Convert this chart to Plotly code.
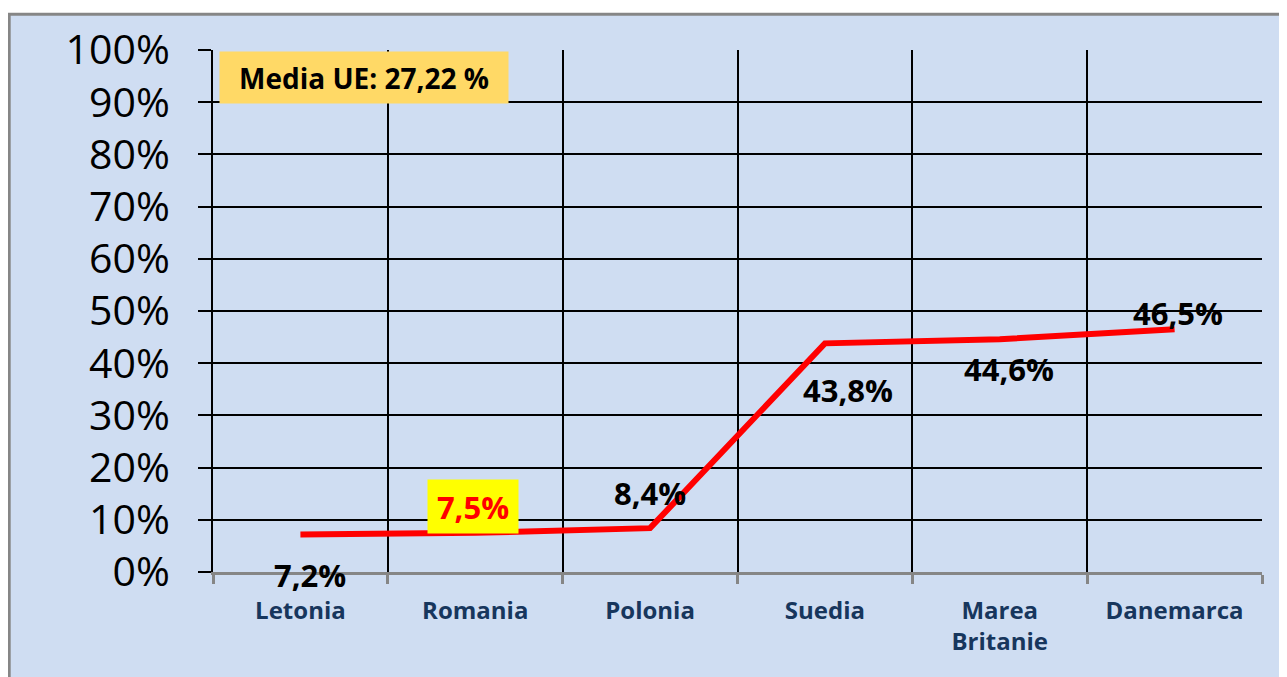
import plotly.graph_objects as go

# ---- data ----
categories = ["Letonia", "Romania", "Polonia", "Suedia", "Marea<br>Britanie", "Danemarca"]
values = [7.2, 7.5, 8.4, 43.8, 44.6, 46.5]
value_labels = ["7,2%", "7,5%", "8,4%", "43,8%", "44,6%", "46,5%"]
y_ticks = [0, 10, 20, 30, 40, 50, 60, 70, 80, 90, 100]
y_tick_labels = ["0%", "10%", "20%", "30%", "40%", "50%", "60%", "70%", "80%", "90%", "100%"]
eu_average_text = "Media UE: 27,22 %"
highlight_index = 1  # Romania

# ---- layout constants (pixels, in window coordinates) ----
PAGE = 8                     # default body margin of the html page
W, H = 1287 - PAGE, 677 - PAGE
L, R, T, B = 213 - PAGE, 1262 - PAGE, 48 - PAGE, 572 - PAGE
BG = "#cfddf2"
FONT = "Open Sans"


def xp(px):
    """window pixel x -> paper x"""
    return (px - PAGE - L) / (R - L)


def yp(py):
    """window pixel y -> paper y"""
    return (B - (py - PAGE)) / (B - T)


fig = go.Figure()
fig.add_trace(go.Scatter(
    x=categories, y=values, mode="lines",
    line=dict(color="#ff0000", width=6),
    cliponaxis=False, hoverinfo="skip", showlegend=False,
))

# label offsets (xshift, yshift) relative to each point
offsets = [(10, -41), (-2, 26), (0, 35), (23, -47), (9, -30), (3, 16)]
annotations = []
for i, (c, v, t) in enumerate(zip(categories, values, value_labels)):
    dx, dy = offsets[i]
    if i == highlight_index:
        annotations.append(dict(
            x=c, y=v, xref="x", yref="y", text=t, showarrow=False,
            xanchor="center", yanchor="middle",
            xshift=dx, yshift=dy, bgcolor="#ffff00", width=90, height=53,
            borderpad=0, font=dict(family=FONT, size=31, color="#ff0000", weight="bold"),
        ))
    else:
        annotations.append(dict(
            x=c, y=v, xref="x", yref="y", text=t, showarrow=False,
            xanchor="center", yanchor="middle",
            xshift=dx, yshift=dy,
            font=dict(family=FONT, size=31, color="#000000", weight="bold"),
        ))

annotations.append(dict(
    x=xp(364), y=yp(75.5), xref="paper", yref="paper", text=eu_average_text,
    xanchor="center", yanchor="middle",
    showarrow=False, bgcolor="#ffd966", width=288, height=51, borderpad=0,
    font=dict(family=FONT, size=28, color="#000000", weight="bold"),
))

shapes = [
    # white margin above chart frame
    dict(type="rect", xref="paper", yref="paper", x0=xp(0), x1=xp(1300), y0=yp(11), y1=yp(0),
         fillcolor="white", line=dict(width=0), layer="above"),
    # grey frame
    dict(type="line", xref="paper", yref="paper", x0=xp(8), x1=xp(1300), y0=yp(12), y1=yp(12),
         line=dict(color="#868686", width=3), layer="above"),
    dict(type="line", xref="paper", yref="paper", x0=xp(9.2), x1=xp(9.2), y0=yp(12), y1=yp(690),
         line=dict(color="#868686", width=3), layer="above"),
]

fig.update_layout(
    width=W, height=H, autosize=False,
    margin=dict(l=L, r=W - R, t=T, b=H - B, pad=0),
    paper_bgcolor=BG, plot_bgcolor=BG,
    showlegend=False,
    annotations=annotations,
    shapes=shapes,
    xaxis=dict(
        type="category", range=[-0.5, 5.5], tickson="boundaries",
        showgrid=True, gridcolor="#000000", gridwidth=2,
        showline=True, linecolor="#868686", linewidth=3,
        ticks="outside", ticklen=9, tickwidth=3, tickcolor="#868686",
        tickfont=dict(family=FONT, size=24, color="#17365d", weight="bold"),
        ticklabelstandoff=15,
        zeroline=False, fixedrange=True,
    ),
    yaxis=dict(
        range=[0, 100], tickmode="array", tickvals=y_ticks, ticktext=y_tick_labels,
        showgrid=True, gridcolor="#000000", gridwidth=2,
        showline=True, linecolor="#000000", linewidth=2,
        ticks="outside", ticklen=13, tickwidth=2, tickcolor="#000000",
        tickfont=dict(family=FONT, size=41, color="#000000"),
        ticklabelstandoff=20,
        zeroline=False, fixedrange=True,
    ),
)

fig.write_html("out.html")
